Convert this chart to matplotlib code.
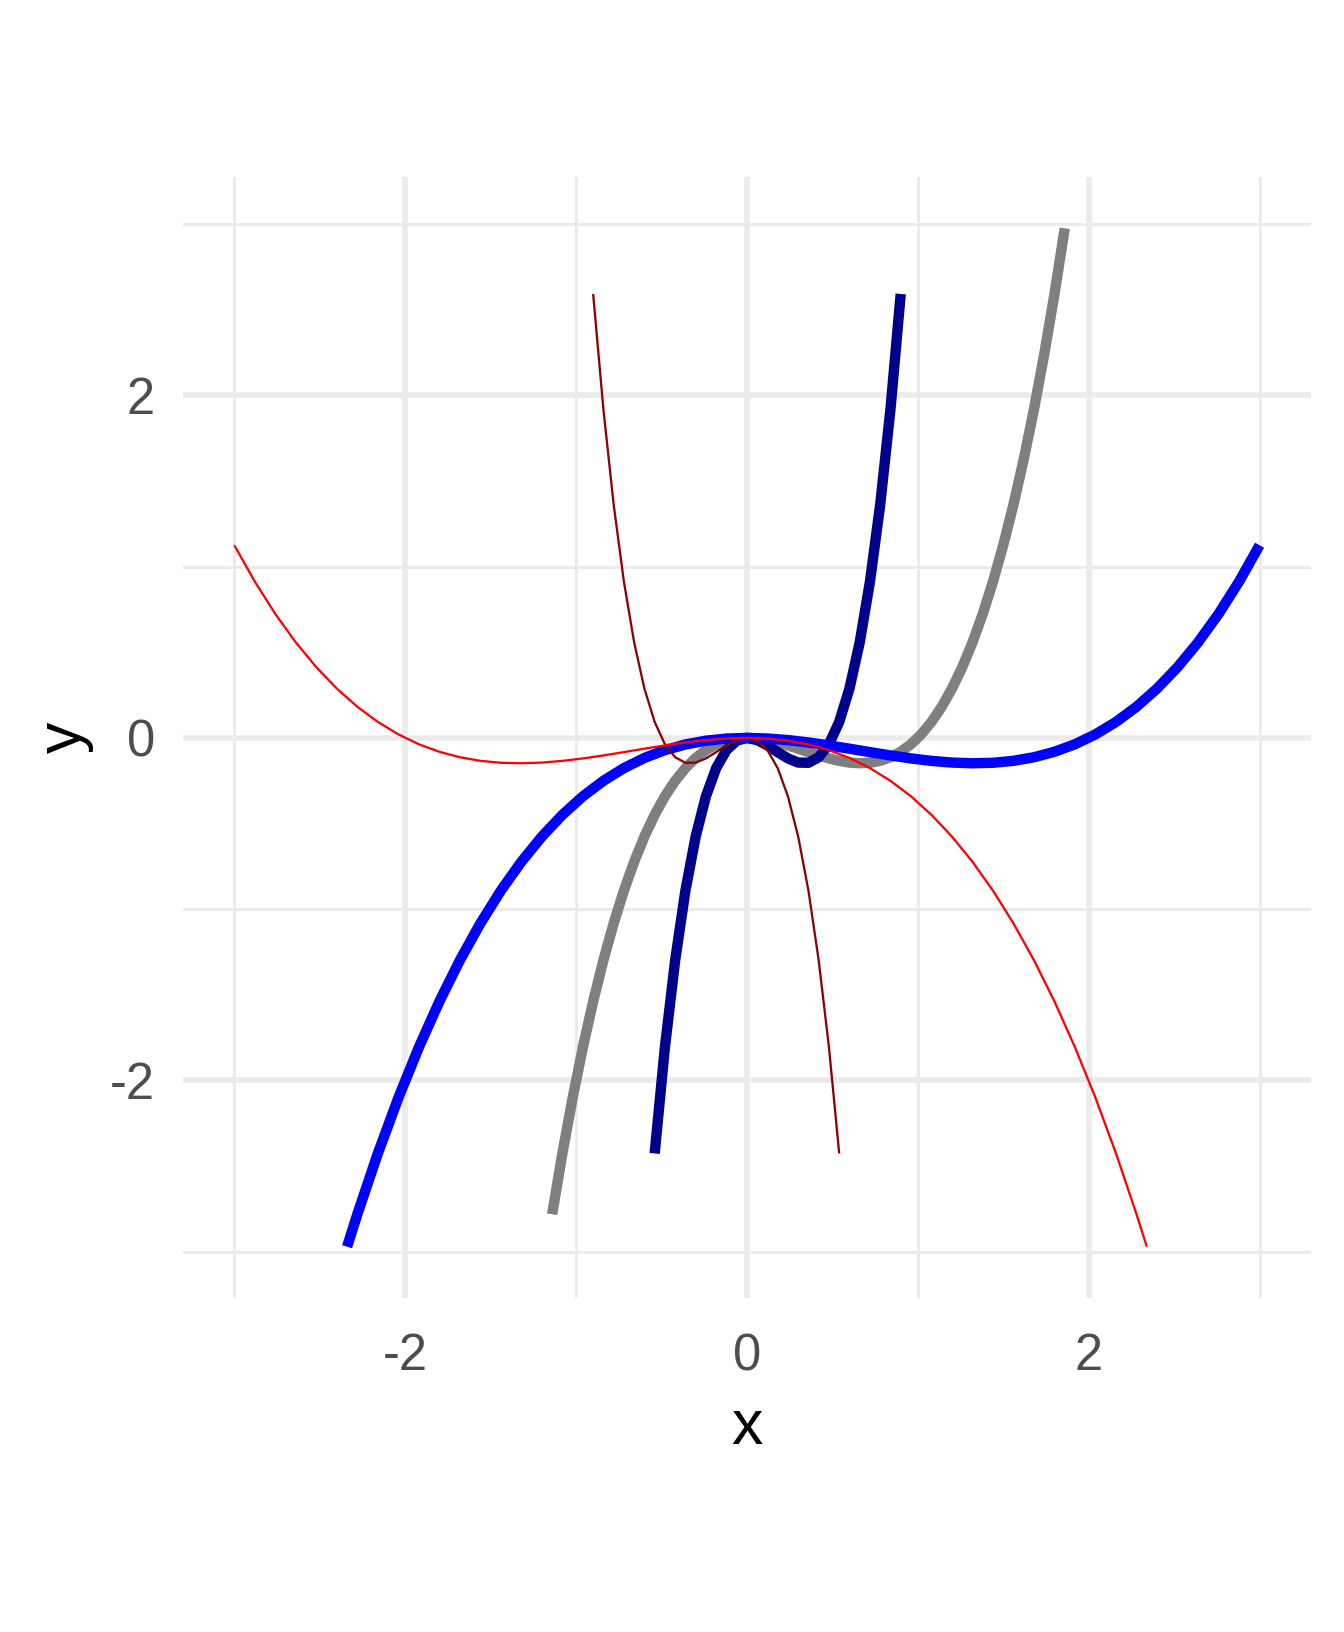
import matplotlib
matplotlib.use("Agg")
import matplotlib.pyplot as plt
from matplotlib.ticker import FixedLocator

# ---- data ----
blue_x = [-2.34, -2.28, -2.16, -2.04, -1.92, -1.80, -1.68, -1.56, -1.44, -1.32, -1.20,
          -1.08, -0.96, -0.84, -0.72, -0.60, -0.48, -0.36, -0.24, -0.12, 0.00, 0.12,
          0.24, 0.36, 0.48, 0.60, 0.72, 0.84, 0.96, 1.08, 1.20, 1.32, 1.44, 1.56, 1.68,
          1.80, 1.92, 2.04, 2.16, 2.28, 2.40, 2.52, 2.64, 2.76, 2.88, 3.00]
blue_y = [-2.9705, -2.7811, -2.4261, -2.1016, -1.8063, -1.539, -1.2983, -1.083, -0.8916,
          -0.7231, -0.576, -0.4491, -0.341, -0.2505, -0.1763, -0.117, -0.0714, -0.0382,
          -0.0161, -0.0038, 0.0, -0.0034, -0.0127, -0.0266, -0.0438, -0.063, -0.0829,
          -0.1023, -0.1198, -0.1341, -0.144, -0.1481, -0.1452, -0.1338, -0.1129, -0.081,
          -0.0369, 0.0208, 0.0933, 0.1819, 0.288, 0.4128, 0.5576, 0.7237, 0.9124, 1.125]

red_x = [-3.00, -2.88, -2.76, -2.64, -2.52, -2.40, -2.28, -2.16, -2.04, -1.92, -1.80,
         -1.68, -1.56, -1.44, -1.32, -1.20, -1.08, -0.96, -0.84, -0.72, -0.60, -0.48,
         -0.36, -0.24, -0.12, 0.00, 0.12, 0.24, 0.36, 0.48, 0.60, 0.72, 0.84, 0.96, 1.08,
         1.20, 1.32, 1.44, 1.56, 1.68, 1.80, 1.92, 2.04, 2.16, 2.28, 2.34]
red_y = [1.125, 0.9124, 0.7237, 0.5576, 0.4128, 0.288, 0.1819, 0.0933, 0.0208, -0.0369,
         -0.081, -0.1129, -0.1338, -0.1452, -0.1481, -0.144, -0.1341, -0.1198, -0.1023,
         -0.0829, -0.063, -0.0438, -0.0266, -0.0127, -0.0034, 0.0, -0.0038, -0.0161,
         -0.0382, -0.0714, -0.117, -0.1763, -0.2505, -0.341, -0.4491, -0.576, -0.7231,
         -0.8916, -1.083, -1.2983, -1.539, -1.8063, -2.1016, -2.4261, -2.7811, -2.9705]

grey_x = [-1.14, -1.08, -1.02, -0.96, -0.90, -0.84, -0.78, -0.72, -0.66, -0.60, -0.54,
          -0.48, -0.42, -0.36, -0.30, -0.24, -0.18, -0.12, -0.06, 0.00, 0.06, 0.12, 0.18,
          0.24, 0.30, 0.36, 0.42, 0.48, 0.54, 0.60, 0.66, 0.72, 0.78, 0.84, 0.90, 0.96,
          1.02, 1.08, 1.14, 1.20, 1.26, 1.32, 1.38, 1.44, 1.50, 1.56, 1.62, 1.68, 1.74,
          1.80, 1.86]
grey_y = [-2.7811, -2.4261, -2.1016, -1.8063, -1.539, -1.2983, -1.083, -0.8916, -0.7231,
          -0.576, -0.4491, -0.341, -0.2505, -0.1763, -0.117, -0.0714, -0.0382, -0.0161,
          -0.0038, 0.0, -0.0034, -0.0127, -0.0266, -0.0438, -0.063, -0.0829, -0.1023,
          -0.1198, -0.1341, -0.144, -0.1481, -0.1452, -0.1338, -0.1129, -0.081, -0.0369,
          0.0208, 0.0933, 0.1819, 0.288, 0.4128, 0.5576, 0.7237, 0.9124, 1.125, 1.3628,
          1.6271, 1.9192, 2.2404, 2.592, 2.9753]

navy_x = [-0.54, -0.48, -0.42, -0.36, -0.30, -0.24, -0.18, -0.12, -0.06, 0.00, 0.06, 0.12,
          0.18, 0.24, 0.30, 0.36, 0.42, 0.48, 0.54, 0.60, 0.66, 0.72, 0.78, 0.84, 0.90]
navy_y = [-2.4261, -1.8063, -1.2983, -0.8916, -0.576, -0.341, -0.1763, -0.0714, -0.0161,
          0.0, -0.0127, -0.0438, -0.0829, -0.1198, -0.144, -0.1452, -0.1129, -0.0369,
          0.0933, 0.288, 0.5576, 0.9124, 1.3628, 1.9192, 2.592]

darkred_x = [-0.90, -0.84, -0.78, -0.72, -0.66, -0.60, -0.54, -0.48, -0.42, -0.36, -0.30,
             -0.24, -0.18, -0.12, -0.06, 0.00, 0.06, 0.12, 0.18, 0.24, 0.30, 0.36, 0.42,
             0.48, 0.54]
darkred_y = [2.592, 1.9192, 1.3628, 0.9124, 0.5576, 0.288, 0.0933, -0.0369, -0.1129,
             -0.1452, -0.144, -0.1198, -0.0829, -0.0438, -0.0127, 0.0, -0.0161, -0.0714,
             -0.1763, -0.341, -0.576, -0.8916, -1.2983, -1.8063, -2.4261]

major_ticks = [-2, 0, 2]
minor_ticks = [-3, -1, 1, 3]
tick_labels = ["-2", "0", "2"]

# ---- figure ----
plt.rcParams["font.family"] = ["Liberation Sans", "DejaVu Sans"]
plt.rcParams["axes.unicode_minus"] = False

fig = plt.figure(figsize=(7, 8.5), dpi=192)
ax = fig.add_axes([0.1362, 0.2049, 0.8391, 0.6864])

common = dict(solid_capstyle="butt", solid_joinstyle="round")
ax.plot(grey_x, grey_y, color="#7F7F7F", lw=3.9, zorder=3, **common)
ax.plot(navy_x, navy_y, color="#00008B", lw=3.9, zorder=4, **common)
ax.plot(blue_x, blue_y, color="#0000FF", lw=3.9, zorder=5, **common)
ax.plot(darkred_x, darkred_y, color="#8B0000", lw=0.85, zorder=6, **common)
ax.plot(red_x, red_y, color="#FF0000", lw=0.85, zorder=7, **common)

ax.margins(0.05)

ax.xaxis.set_major_locator(FixedLocator(major_ticks))
ax.yaxis.set_major_locator(FixedLocator(major_ticks))
ax.xaxis.set_minor_locator(FixedLocator(minor_ticks))
ax.yaxis.set_minor_locator(FixedLocator(minor_ticks))
ax.set_xticklabels(tick_labels)
ax.set_yticklabels(tick_labels)

ax.grid(which="major", color="#EBEBEB", lw=2.1, zorder=0)
ax.grid(which="minor", color="#EBEBEB", lw=1.1, zorder=0)
ax.set_axisbelow(True)
for s in ax.spines.values():
    s.set_visible(False)
ax.tick_params(which="both", length=0)
ax.tick_params(axis="both", labelsize=19, labelcolor="#4D4D4D")
ax.tick_params(axis="y", pad=10.5)
ax.tick_params(axis="x", pad=13)

ax.set_xlabel("x", fontsize=23.5, color="black", va="center")
ax.set_ylabel("y", fontsize=23.5, color="black", va="center")
ax.xaxis.set_label_coords(0.5, -0.1156)
ax.yaxis.set_label_coords(-0.1055, 0.5)

fig.savefig("out.png", dpi=192, facecolor="white")
